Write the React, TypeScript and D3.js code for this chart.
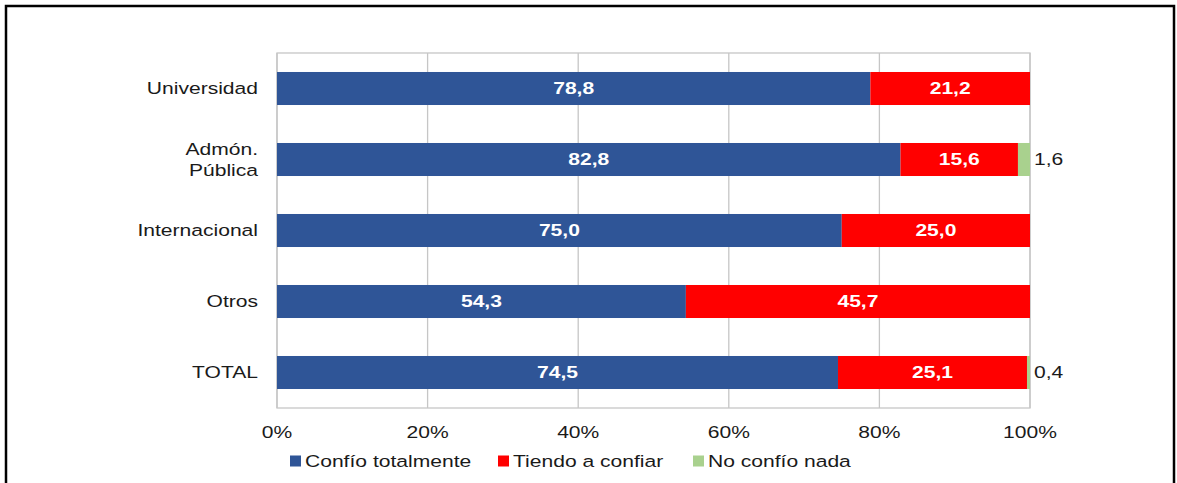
import React from 'react';
import * as d3 from 'd3';

const categories = ['Universidad', 'Admón.\nPública', 'Internacional', 'Otros', 'TOTAL'];
const seriesNames = ['Confío totalmente', 'Tiendo a confiar', 'No confío nada'];
const confioTotal = [78.8, 82.8, 75.0, 54.3, 74.5];
const tiendoConfiar = [21.2, 15.6, 25.0, 45.7, 25.1];
const noConfio = [0, 1.6, 0, 0, 0.4];
const xTicks = [0, 20, 40, 60, 80, 100];

const colors = ['#2F5597', '#FF0000', '#A9D18E'];
const font = '"Liberation Sans", Arial, sans-serif';
const stretch = 1.24; // the source text is drawn horizontally widened

type LabelProps = {
  x: number;
  y: number;
  anchor?: 'start' | 'middle' | 'end';
  fill?: string;
  bold?: boolean;
  children: React.ReactNode;
};

// text widened horizontally around its anchor point
const Label = ({ x, y, anchor = 'start', fill = '#1a1a1a', bold = false, children }: LabelProps) => (
  <g transform={`translate(${x},${y}) scale(${stretch},1)`}>
    <text x={0} y={0} dy="0.35em" textAnchor={anchor} fill={fill} fontSize={17}
      fontWeight={bold ? 'bold' : 'normal'} fontFamily={font}>{children}</text>
  </g>
);

const App = () => {
  const width = 1177;
  const height = 483;
  const margin = { top: 53, right: 147, bottom: 75, left: 277 };
  const innerW = width - margin.left - margin.right;
  const innerH = height - margin.top - margin.bottom;

  const x = d3.scaleLinear().domain([0, 100]).range([0, innerW]);
  const y = d3.scaleBand().domain(categories).range([0, innerH]).paddingInner(0.535).paddingOuter(0.2675);

  const rows = categories.map((c, i) => ({ cat: c, vals: [confioTotal[i], tiendoConfiar[i], noConfio[i]] }));
  const fmt = (v: number) => v.toFixed(1).replace('.', ',');

  const legendX = [290, 498, 693];

  return (
    <svg width={width} height={height} style={{ position: 'absolute', left: 0, top: 0, background: '#fff' }}>
      <rect x={6} y={6} width={1168} height={500} fill="none" stroke="#000" strokeWidth={2.5} />
      <g transform={`translate(${margin.left},${margin.top})`}>
        {xTicks.map((t) => (
          <line key={t} x1={x(t)} x2={x(t)} y1={0} y2={innerH} stroke="#c6c6c6" strokeWidth={1.3} />
        ))}
        <rect x={0} y={0} width={innerW} height={innerH} fill="none" stroke="#c6c6c6" strokeWidth={1.3} />
        {rows.map((r) => {
          let acc = 0;
          const y0 = y(r.cat)!;
          const bw = y.bandwidth();
          return (
            <g key={r.cat}>
              {r.vals.map((v, j) => {
                const x0 = x(acc);
                acc += v;
                if (v === 0) return null;
                const w = x(acc) - x0;
                return (
                  <g key={j}>
                    <rect x={x0} y={y0} width={w} height={bw} fill={colors[j]} />
                    {j < 2 ? (
                      <Label x={x0 + w / 2} y={y0 + bw / 2} anchor="middle" fill="#fff" bold>{fmt(v)}</Label>
                    ) : (
                      <Label x={x(acc) + 4} y={y0 + bw / 2}>{fmt(v)}</Label>
                    )}
                  </g>
                );
              })}
              {r.cat.split('\n').map((line, k, arr) => (
                <Label key={k} x={-19} y={y0 + bw / 2 + (k - (arr.length - 1) / 2) * 21} anchor="end">{line}</Label>
              ))}
            </g>
          );
        })}
        {xTicks.map((t) => (
          <Label key={t} x={x(t)} y={innerH + 24} anchor="middle">{`${t}%`}</Label>
        ))}
      </g>
      {seriesNames.map((s, i) => (
        <g key={s} transform={`translate(${legendX[i]},${461})`}>
          <rect x={0} y={-5.5} width={11} height={11} fill={colors[i]} />
          <Label x={15} y={0}>{s}</Label>
        </g>
      ))}
    </svg>
  );
};

export default App;
